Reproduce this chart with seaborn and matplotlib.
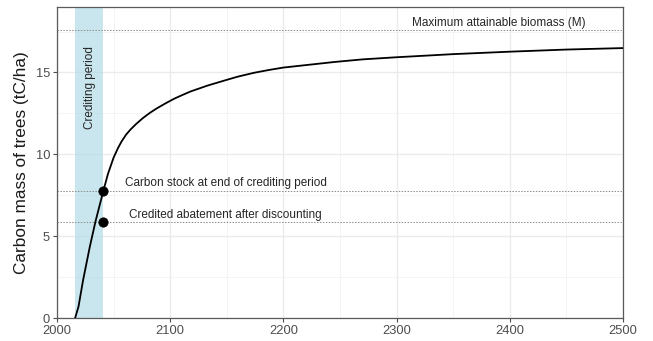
import matplotlib
matplotlib.use("Agg")
import matplotlib.pyplot as plt
from matplotlib.ticker import MultipleLocator
import seaborn as sns
import pandas as pd

# values
years = [2016, 2019, 2023, 2029, 2034, 2041, 2045, 2050, 2054, 2057, 2061, 2065,
         2070, 2076, 2082, 2088, 2095, 2103, 2110, 2118, 2133, 2150, 2160, 2174,
         2187, 2200, 2245, 2270, 2300, 2350, 2400, 2450, 2500]
carbon = [0.0, 0.7, 2.3, 4.36, 5.9, 7.78, 8.8, 9.8, 10.4, 10.78, 11.2, 11.52,
          11.86, 12.22, 12.53, 12.8, 13.08, 13.38, 13.6, 13.84, 14.2, 14.55, 14.75, 14.98,
          15.15, 15.3, 15.64, 15.8, 15.93, 16.12, 16.27, 16.4, 16.49]

credit_start = 2016
credit_end = 2041
max_biomass = 17.6
stock_end = 7.78
credited = 5.85

df = pd.DataFrame({"year": years, "carbon": carbon})
pts = pd.DataFrame({"year": [credit_end, credit_end], "carbon": [stock_end, credited]})

sns.set_theme(style="white")
plt.rcParams["font.family"] = ["Liberation Sans", "DejaVu Sans"]

fig = plt.figure(figsize=(6.53, 3.41), dpi=100)
ax = fig.add_axes([0.0873, 0.0674, 0.8667, 0.9121])

ax.xaxis.set_major_locator(MultipleLocator(100))
ax.xaxis.set_minor_locator(MultipleLocator(50))
ax.yaxis.set_major_locator(MultipleLocator(5))
ax.yaxis.set_minor_locator(MultipleLocator(2.5))
ax.grid(which="major", color="#EBEBEB", lw=1.0)
ax.grid(which="minor", color="#F2F2F2", lw=0.6)
ax.set_axisbelow(True)

ax.axvspan(credit_start, credit_end, color="lightblue", alpha=0.65, lw=0, zorder=1)
for yv in [max_biomass, stock_end, credited]:
    ax.axhline(yv, color="#8C8C8C", lw=0.7, ls=(0, (1.5, 1.5)), zorder=2)

sns.lineplot(data=df, x="year", y="carbon", color="black", lw=1.3, ax=ax, zorder=3)
sns.scatterplot(data=pts, x="year", y="carbon", color="black", s=45, ax=ax,
                edgecolor="black", zorder=4)

ax.text(2029, 14.1, "Crediting period", rotation=90, ha="center", va="center", fontsize=8.5)
ax.text(2149, 8.25, "Carbon stock at end of crediting period", ha="center", va="center", fontsize=8.5)
ax.text(2149, 6.3, "Credited abatement after discounting", ha="center", va="center", fontsize=8.5)
ax.text(2390, 18.05, "Maximum attainable biomass (M)", ha="center", va="center", fontsize=8.5)

ax.set_xlim(2000, 2500)
ax.set_ylim(0, 19)
ax.set_xticks([2000, 2100, 2200, 2300, 2400, 2500])
ax.set_yticks([0, 5, 10, 15])
ax.set_xlabel("")
ax.set_ylabel("Carbon mass of trees (tC/ha)", fontsize=12.4, color="#1A1A1A", labelpad=5)
ax.tick_params(axis="both", which="major", labelsize=9.3, labelcolor="#4D4D4D",
               color="#4D4D4D", length=3, width=0.8, direction="out",
               bottom=True, left=True, pad=2)
ax.tick_params(which="minor", length=0)
for s in ax.spines.values():
    s.set_color("#5A5A5A")
    s.set_linewidth(0.9)

fig.savefig("out.png", dpi=100)
